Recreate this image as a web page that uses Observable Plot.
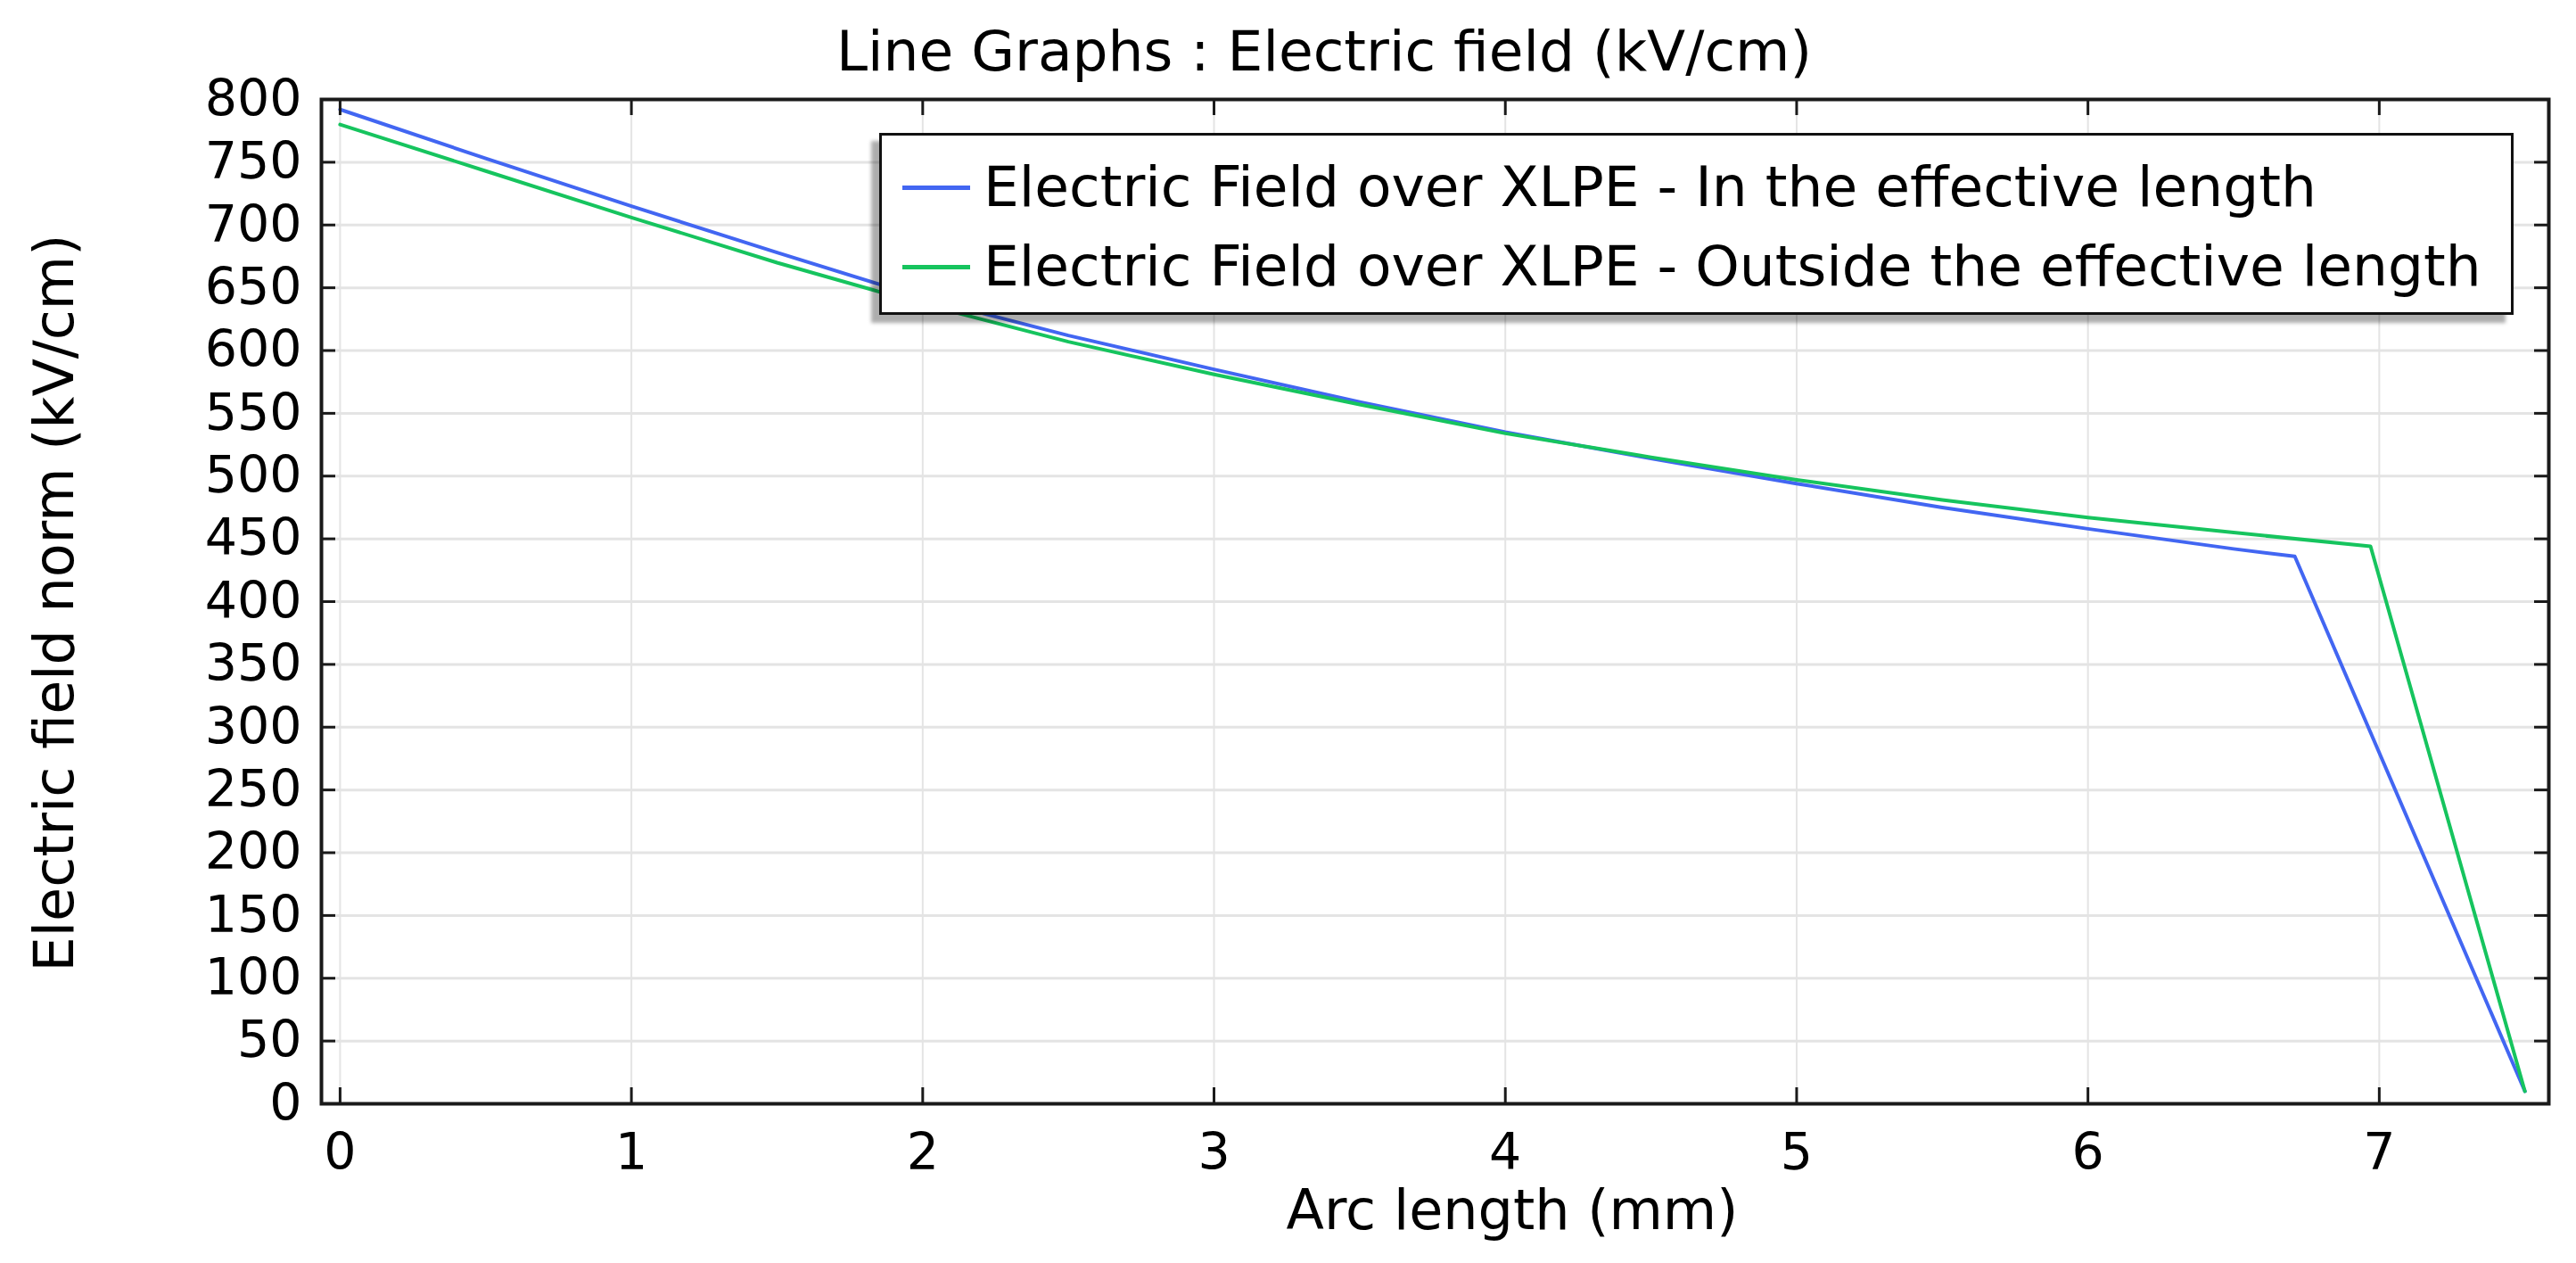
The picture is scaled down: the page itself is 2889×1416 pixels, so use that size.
<!DOCTYPE html>
<html>
<head>
<meta charset="utf-8">
<script src="https://cdn.jsdelivr.net/npm/d3@7"></script>
<script src="https://cdn.jsdelivr.net/npm/@observablehq/plot@0.6"></script>
<style>
  html, body { margin: 0; padding: 0; background: #fff; }
  body { font-family: "DejaVu Sans", sans-serif; color: #000; }
  #wrap { position: relative; width: 2889px; height: 1416px; overflow: hidden; }
  .lbl { position: absolute; white-space: nowrap; line-height: 1; }
  #title { font-size: 63px; left: 1485px; top: 26px; transform: translateX(-50%); }
  #xlabel { font-size: 62px; left: 1696px; top: 1326px; transform: translateX(-50%); }
  #ylabel { font-size: 62px; left: 61px; top: 676px; transform: translate(-50%, -50%) rotate(-90deg); }
  #legend { position: absolute; left: 986px; top: 149px; width: 1827px; height: 198px;
            border: 3px solid #111; background: #fff; box-shadow: -9px 9px 4px rgba(0,0,0,0.32); }
  .row { position: absolute; left: 0; height: 63px; line-height: 63px; font-size: 63px; white-space: nowrap; }
  .sw { position: absolute; left: 23px; width: 76px; height: 0; top: 30px; border-top: 5px solid; }
  .tx { position: absolute; left: 114px; top: 0; }
</style>
</head>
<body>
<div id="wrap">
  <div id="chart"></div>
  <div id="title" class="lbl"></div>
  <div id="xlabel" class="lbl"></div>
  <div id="ylabel" class="lbl"></div>
  <div id="legend"></div>
</div>
<script>
// ---- data ----
const titleText = "Line Graphs : Electric field (kV/cm)";
const xLabelText = "Arc length (mm)";
const yLabelText = "Electric field norm (kV/cm)";

const seriesNames = [
  "Electric Field over XLPE - In the effective length",
  "Electric Field over XLPE - Outside the effective length"
];
const seriesColors = ["#4266f2", "#16c45e"];

// Series 1: in the effective length
const arcIn   = [0, 0.5, 1, 1.5, 2, 2.5, 3, 3.5, 4, 4.5, 5, 5.5, 6, 6.5, 6.71, 7.5];
const fieldIn = [792, 753, 715, 678, 642, 612, 585, 559, 535, 514, 494, 475, 458, 442, 436, 10];

// Series 2: outside the effective length
const arcOut   = [0, 0.5, 1, 1.5, 2, 2.5, 3, 3.5, 4, 4.5, 5, 5.5, 6, 6.5, 6.97, 7.5];
const fieldOut = [780, 743, 706, 670, 637, 607, 581, 557, 534, 515, 497, 481, 467, 455, 444, 10];

const xTicks = [0, 1, 2, 3, 4, 5, 6, 7];
const xTickLabels = ["0", "1", "2", "3", "4", "5", "6", "7"];
const yTicks = [0, 50, 100, 150, 200, 250, 300, 350, 400, 450, 500, 550, 600, 650, 700, 750, 800];

const xDomain = [-0.064, 7.582];
const yDomain = [0, 800];

// ---- layout ----
const W = 2889, H = 1416;
const mL = 360, mR = 31, mT = 111, mB = 179;
const plotW = W - mL - mR, plotH = H - mT - mB;
const tickLenX = 18, tickLenY = 16;

// ---- build table ----
const rows = [
  ...arcIn.map((x, i) => ({x, y: fieldIn[i], s: seriesNames[0]})),
  ...arcOut.map((x, i) => ({x, y: fieldOut[i], s: seriesNames[1]}))
];

const tickStyle = {stroke: "#1a1a1a", strokeWidth: 3};

const chart = Plot.plot({
  width: W,
  height: H,
  marginLeft: mL,
  marginRight: mR,
  marginTop: mT,
  marginBottom: mB,
  style: {fontFamily: "DejaVu Sans, sans-serif", fontSize: "57px", color: "#000", background: "#fff", overflow: "visible"},
  x: {domain: xDomain},
  y: {domain: yDomain},
  color: {domain: seriesNames, range: seriesColors},
  marks: [
    Plot.gridY(yTicks, {stroke: "#e4e4e4", strokeOpacity: 1, strokeWidth: 3}),
    Plot.gridX(xTicks, {stroke: "#e4e4e4", strokeOpacity: 1, strokeWidth: 2}),
    Plot.line(rows, {x: "x", y: "y", z: "s", stroke: "s", strokeWidth: 4, strokeLinejoin: "round"}),
    // inward ticks on all four sides
    Plot.tickX(xTicks, {x: d => d, insetTop: plotH - tickLenX, ...tickStyle}),
    Plot.tickX(xTicks, {x: d => d, insetBottom: plotH - tickLenX, ...tickStyle}),
    Plot.tickY(yTicks, {y: d => d, insetRight: plotW - tickLenY, ...tickStyle}),
    Plot.tickY(yTicks, {y: d => d, insetLeft: plotW - tickLenY, ...tickStyle}),
    Plot.frame({stroke: "#1a1a1a", strokeWidth: 4}),
    Plot.axisX(xTicks, {anchor: "bottom", tickSize: 0, tickPadding: 33, label: null, fontSize: 57,
                        tickFormat: d => xTickLabels[xTicks.indexOf(d)]}),
    Plot.axisY(yTicks, {anchor: "left", tickSize: 0, tickPadding: 22, label: null, fontSize: 57,
                        tickFormat: d => String(d)})
  ]
});
document.getElementById("chart").appendChild(chart);

document.getElementById("title").textContent = titleText;
document.getElementById("xlabel").textContent = xLabelText;
document.getElementById("ylabel").textContent = yLabelText;

const legend = document.getElementById("legend");
const rowTops = [26, 115];
seriesNames.forEach((name, i) => {
  const r = document.createElement("div");
  r.className = "row";
  r.style.top = rowTops[i] + "px";
  const sw = document.createElement("div");
  sw.className = "sw";
  sw.style.borderTopColor = seriesColors[i];
  const tx = document.createElement("div");
  tx.className = "tx";
  tx.textContent = name;
  r.appendChild(sw);
  r.appendChild(tx);
  legend.appendChild(r);
});
</script>
</body>
</html>
